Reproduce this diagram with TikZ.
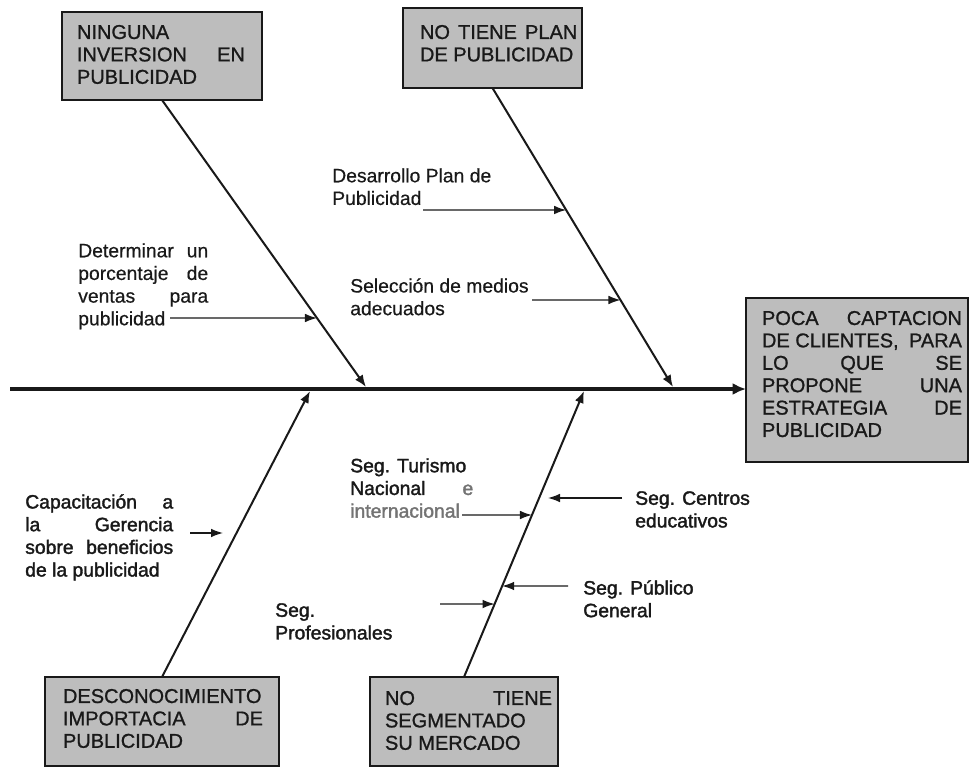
\documentclass[tikz,border=0pt]{standalone}
\usepackage{fontspec}
\setmainfont{Liberation Sans}
\newfontfamily\heavyfont[FakeBold=1.8]{Liberation Sans}
\newfontfamily\boxfont[FakeBold=1.0]{Liberation Sans}
\newfontfamily\upfont[FakeBold=0.5]{Liberation Sans}
\usetikzlibrary{arrows.meta}
\newcommand\jl[1]{\hbox to \hsize{#1}}
\newcommand\jb[2]{\vtop{\hsize=#1\relax #2}}
\definecolor{boxgray}{gray}{0.74}
\definecolor{ink}{gray}{0.1}
\definecolor{faint}{gray}{0.45}
\begin{document}
\begin{tikzpicture}[x=0.75pt,y=-0.75pt,
  causebox/.style={draw=ink, line width=1.1pt, fill=boxgray, inner sep=0pt, outer sep=0pt},
  boxtext/.style={anchor=north west, inner sep=0pt, outer sep=0pt, text=ink, font=\boxfont\fontsize{15}{16.8}\selectfont},
  uplabel/.style={anchor=north west, inner sep=0pt, text=ink, align=left, font=\upfont\fontsize{14.5}{17}\selectfont},
  lowlabel/.style={anchor=north west, inner sep=0pt, text=ink, align=left, font=\heavyfont\fontsize{14.5}{17}\selectfont},
  spine/.style={line width=2.4pt, draw=ink, -{Latex[length=10pt,width=9pt]}},
  bone/.style={line width=1.5pt, draw=ink, -{Latex[length=9pt,width=7pt]}},
  sub/.style={line width=1pt, draw=ink, -{Latex[length=9pt,width=6.5pt]}}
]
\useasboundingbox (0,0) rectangle (979,767);

% cause boxes
\node[causebox, minimum width=200*0.75pt, minimum height=88*0.75pt] (b1) at (162,56) {};
\node[causebox, minimum width=179*0.75pt, minimum height=80*0.75pt] (b2) at (492.5,48) {};
\node[causebox, minimum width=222*0.75pt, minimum height=164*0.75pt] (b3) at (857,380) {};
\node[causebox, minimum width=234*0.75pt, minimum height=89*0.75pt] (b4) at (162,721.5) {};
\node[causebox, minimum width=188*0.75pt, minimum height=89*0.75pt] (b5) at (464,721.5) {};

% box texts
\node[boxtext] (t1) at (77,25) {\jb{126pt}{\jl{NINGUNA\hfill}\jl{INVERSION\hfill EN}\jl{PUBLICIDAD\hfill}}};
\node[boxtext] (t2) at (420,25) {\jb{118pt}{\jl{NO\hfill TIENE\hfill PLAN}\jl{DE PUBLICIDAD\hfill}}};
\node[boxtext] (t3) at (762,311) {\jb{150pt}{\jl{POCA\hfill CAPTACION}\jl{DE CLIENTES,\hfill PARA}\jl{LO\hfill QUE\hfill SE}\jl{PROPONE\hfill UNA}\jl{ESTRATEGIA\hfill DE}\jl{PUBLICIDAD\hfill}}};
\node[boxtext] (t4) at (63,689) {\jb{150pt}{\jl{DESCONOCIMIENTO\hfill}\jl{IMPORTACIA\hfill DE}\jl{PUBLICIDAD\hfill}}};
\node[boxtext] (t5) at (385,691) {\jb{125.25pt}{\jl{NO\hfill TIENE}\jl{SEGMENTADO\hfill}\jl{SU MERCADO\hfill}}};

% spine
\coordinate (sp0) at (10,389);
\draw[spine] (sp0) -- (sp0 -| b3.west);

% bones
\coordinate (s1) at (366,387);
\coordinate (s2) at (673,387);
\coordinate (s3) at (310,391);
\coordinate (s4) at (584,391);
\draw[bone] (b1.south) -- coordinate[pos=0.7596] (p1) (s1);
\draw[bone] (b2.south) -- coordinate[pos=0.408] (p2) coordinate[pos=0.709] (p3) (s2);
\draw[bone] (b4.north) -- (s3);
\draw[bone] (b5.north) -- coordinate[pos=0.5664] (p4) coordinate[pos=0.3182] (p5) coordinate[pos=0.2552] (p6) (s4);

% labels
\node[uplabel] (l1) at (78,243) {\jb{97.5pt}{\jl{Determinar\hfill un}\jl{porcentaje\hfill de}\jl{ventas\hfill para}\jl{publicidad\hfill}}};
\node[uplabel] (l2) at (332,168) {Desarrollo Plan de\\Publicidad};
\node[uplabel] (l3) at (350,278) {Selección de medios\\adecuados};
\node[lowlabel] (l4) at (25,494) {\jb{111pt}{\jl{Capacitación\hfill a}\jl{la\hfill Gerencia}\jl{sobre\hfill beneficios}\jl{de la publicidad\hfill}}};
\node[lowlabel] (l5) at (350,458) {\jb{92.25pt}{\jl{Seg. Turismo\hfill}\jl{Nacional\hfill{\color{faint}e}}\jl{{\color{faint}internacional}\hfill}}};
\node[lowlabel] (l6) at (635,491) {Seg. Centros\\educativos};
\node[lowlabel] (l7) at (583,580) {Seg. Público\\General};
\node[lowlabel] (l8) at (275,603) {Seg.\\Profesionales};

% sub-cause arrows
\coordinate (a1) at (170,318);
\coordinate (a2) at (423,210);
\coordinate (a3) at (532,300);
\coordinate (a4) at (190,533);
\coordinate (e4) at (223,533);
\coordinate (a5) at (462,515);
\coordinate (a6) at (622,498);
\coordinate (e6) at (548,498);
\coordinate (a7) at (568,586);
\coordinate (a8) at (440,604);
\draw[sub] (a1) -- (p1);
\draw[sub] (a2) -- (p2);
\draw[sub] (a3) -- (p3);
\draw[sub] (a4) -- (e4);
\draw[sub] (a5) -- (p4);
\draw[sub] (a6) -- (e6);
\draw[sub] (a7) -- (p5);
\draw[sub] (a8) -- (p6);
\end{tikzpicture}
\end{document}
